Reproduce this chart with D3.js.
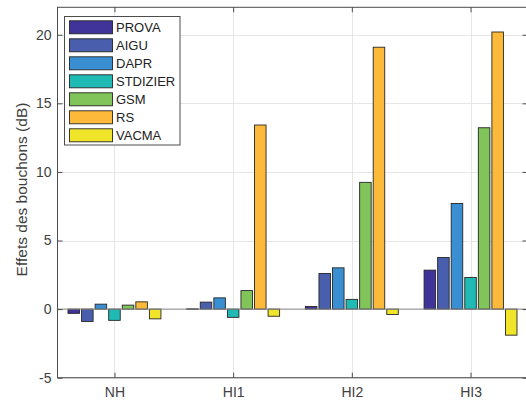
<!DOCTYPE html>
<html>
<head>
<meta charset="utf-8">
<script src="https://cdn.jsdelivr.net/npm/d3@7"></script>
<style>
  html, body { margin: 0; padding: 0; background: #fff; }
  svg { display: block; font-family: "Liberation Sans", Arial, Helvetica, sans-serif; }
</style>
</head>
<body>
<svg id="chart" width="526" height="405"></svg>
<script>
// ---- data ----
const categories = ["NH", "HI1", "HI2", "HI3"];
const seriesNames = ["PROVA", "AIGU", "DAPR", "STDIZIER", "GSM", "RS", "VACMA"];
const PROVA    = [-0.31, 0.02, 0.19, 2.84];
const AIGU     = [-0.90, 0.51, 2.60, 3.76];
const DAPR     = [0.36, 0.82, 3.01, 7.70];
const STDIZIER = [-0.82, -0.60, 0.71, 2.31];
const GSM      = [0.29, 1.35, 9.24, 13.22];
const RS       = [0.53, 13.42, 19.09, 20.20];
const VACMA    = [-0.71, -0.52, -0.39, -1.90];
const yTicks = [-5, 0, 5, 10, 15, 20];
const yTickLabels = ["-5", "0", "5", "10", "15", "20"];
const yLabel = "Effets des bouchons (dB)";

const seriesValues = [PROVA, AIGU, DAPR, STDIZIER, GSM, RS, VACMA];
const colors = ["#40349a", "#4a5eae", "#3a8fd2", "#20bab4", "#80c45a", "#fdba3a", "#f1e52a"];

// ---- layout ----
const svg = d3.select("#chart");
const x = d3.scaleLinear().domain([0.52, 4.48]).range([57.5, 527.5]);
const y = d3.scaleLinear().domain([-5, 22]).range([377.7, 7.3]);
const [x0, x1] = x.range();
const [yb, yt] = y.range();
const axisColor = "#4d4d4d";
const textColor = "#404040";

// grid
const g = svg.append("g");
g.selectAll("line.gy").data(yTicks).join("line")
  .attr("x1", x0).attr("x2", x1)
  .attr("y1", d => Math.round(y(d)) + 0.5).attr("y2", d => Math.round(y(d)) + 0.5)
  .attr("stroke", "#e6e6e6").attr("stroke-width", 1);
g.selectAll("line.gx").data(categories).join("line")
  .attr("x1", (d, i) => Math.round(x(i + 1)) + 0.5).attr("x2", (d, i) => Math.round(x(i + 1)) + 0.5)
  .attr("y1", yt).attr("y2", yb)
  .attr("stroke", "#e6e6e6").attr("stroke-width", 1);

// bars
const nS = seriesNames.length;
const groupW = 0.8;
const step = groupW / nS;
const barW = step * 0.85;
seriesValues.forEach((vals, j) => {
  svg.append("g").selectAll("rect").data(vals).join("rect")
    .attr("x", (d, i) => x(i + 1 + (j - (nS - 1) / 2) * step - barW / 2))
    .attr("width", x(barW) - x(0))
    .attr("y", d => y(Math.max(0, d)))
    .attr("height", d => Math.max(0.5, Math.abs(y(d) - y(0))))
    .attr("fill", colors[j])
    .attr("stroke", "#262626").attr("stroke-width", 0.9);
});

// baseline
svg.append("line")
  .attr("x1", x0).attr("x2", x1)
  .attr("y1", y(0)).attr("y2", y(0))
  .attr("stroke", "#8a8a8a").attr("stroke-width", 1);

// axes box
svg.append("rect")
  .attr("x", x0).attr("y", yt).attr("width", x1 - x0).attr("height", yb - yt)
  .attr("fill", "none").attr("stroke", axisColor).attr("stroke-width", 1);

// ticks (inward, both sides)
const tl = 5;
const yAxisL = d3.axisLeft(y).tickValues(yTicks).tickFormat((d, i) => yTickLabels[i])
  .tickSizeInner(-tl).tickSizeOuter(0).tickPadding(6);
const gl = svg.append("g").attr("transform", `translate(${x0},0)`).call(yAxisL);
gl.select(".domain").remove();
gl.selectAll("line").attr("stroke", axisColor);
gl.selectAll("text").attr("fill", textColor).style("font-size", "14px")
  .style("font-family", "'Liberation Sans', Arial, sans-serif");

const yAxisR = d3.axisRight(y).tickValues(yTicks).tickSizeInner(-tl).tickSizeOuter(0).tickFormat("");
const gr = svg.append("g").attr("transform", `translate(${x1},0)`).call(yAxisR);
gr.select(".domain").remove();
gr.selectAll("line").attr("stroke", axisColor);

const xAxisB = d3.axisBottom(x).tickValues([1, 2, 3, 4]).tickFormat((d) => categories[d - 1])
  .tickSizeInner(-tl).tickSizeOuter(0).tickPadding(9.5);
const gb = svg.append("g").attr("transform", `translate(0,${yb})`).call(xAxisB);
gb.select(".domain").remove();
gb.selectAll("line").attr("stroke", axisColor);
gb.selectAll("text").attr("fill", textColor).style("font-size", "14px")
  .style("font-family", "'Liberation Sans', Arial, sans-serif");

const xAxisT = d3.axisTop(x).tickValues([1, 2, 3, 4]).tickFormat("").tickSizeInner(-tl).tickSizeOuter(0);
const gt = svg.append("g").attr("transform", `translate(0,${yt})`).call(xAxisT);
gt.select(".domain").remove();
gt.selectAll("line").attr("stroke", axisColor);

// y label
svg.append("text")
  .attr("transform", `translate(26.5,${(yt + yb) / 2 - 3}) rotate(-90)`)
  .attr("text-anchor", "middle")
  .attr("fill", textColor)
  .style("font-size", "15.5px")
  .text(yLabel);

// legend
const lg = svg.append("g");
lg.append("rect")
  .attr("x", 64.5).attr("y", 16.5).attr("width", 115.5).attr("height", 128.5)
  .attr("fill", "#fff").attr("stroke", axisColor).attr("stroke-width", 1);
const rowY = k => 27.3 + k * 18;
lg.selectAll("rect.sw").data(seriesNames).join("rect")
  .attr("class", "sw")
  .attr("x", 69.5).attr("y", (d, k) => rowY(k) - 6.5)
  .attr("width", 43).attr("height", 13)
  .attr("fill", (d, k) => colors[k])
  .attr("stroke", "#262626").attr("stroke-width", 0.9);
lg.selectAll("text").data(seriesNames).join("text")
  .attr("x", 116).attr("y", (d, k) => rowY(k) + 4.7)
  .attr("fill", "#222")
  .style("font-size", "13px")
  .text(d => d);
</script>
</body>
</html>
